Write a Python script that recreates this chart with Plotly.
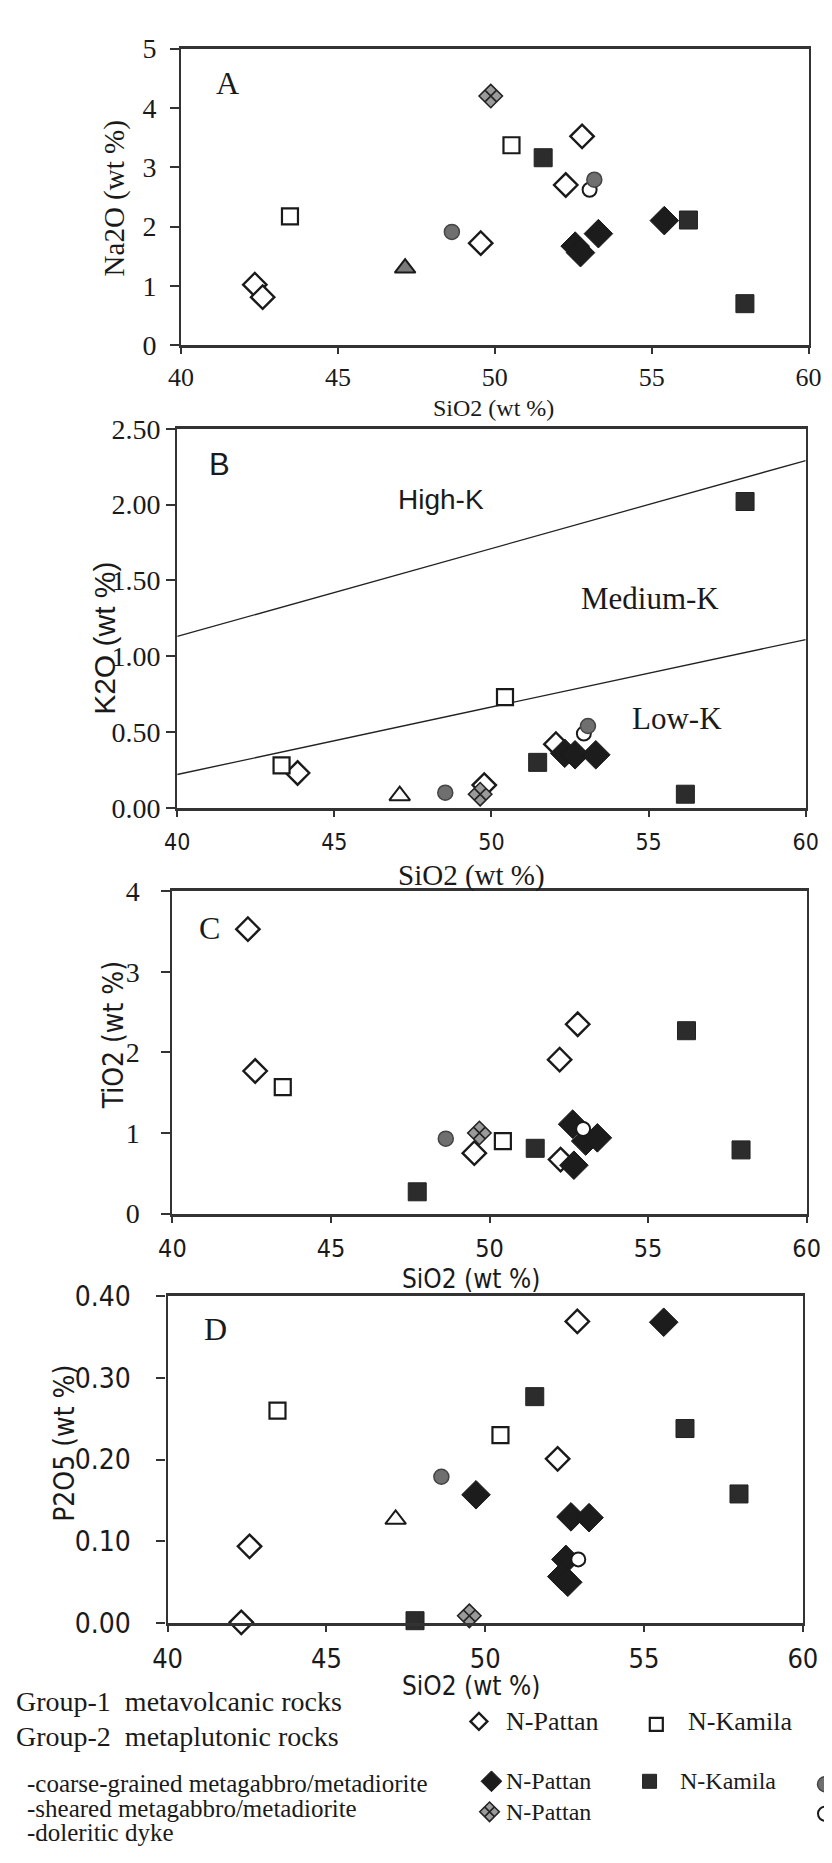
import plotly.graph_objects as go

W, H = 832, 1863

# ---------------- data ----------------
# series codes: g1p = Group-1 N-Pattan, g1k = Group-1 N-Kamila,
# g2p = coarse N-Pattan, g2k = coarse N-Kamila, g2c = coarse (third locality),
# shp = sheared N-Pattan, shc = sheared (third locality), dyk = doleritic dyke

# Panel A: Na2O vs SiO2
A_x_g1p = [42.35, 42.6, 49.55, 52.26, 52.78]
A_y_g1p = [1.02, 0.81, 1.72, 2.70, 3.52]
A_x_g1k = [43.47, 50.53]
A_y_g1k = [2.17, 3.37]
A_x_g2p = [55.4, 53.3, 52.56, 52.73]
A_y_g2p = [2.10, 1.88, 1.67, 1.56]
A_x_g2k = [51.54, 56.17, 57.97]
A_y_g2k = [3.16, 2.11, 0.70]
A_x_g2c = [48.63, 53.17]
A_y_g2c = [1.91, 2.79]
A_x_shp = [49.87]
A_y_shp = [4.20]
A_x_shc = [53.02]
A_y_shc = [2.62]
A_x_dyk = [47.14]
A_y_dyk = [1.30]

# Panel B: K2O vs SiO2
B_x_g1p = [43.83, 49.77, 52.05]
B_y_g1p = [0.23, 0.15, 0.42]
B_x_g1k = [43.32, 50.43]
B_y_g1k = [0.28, 0.73]
B_x_g2p = [52.33, 52.66, 53.32]
B_y_g2p = [0.36, 0.35, 0.35]
B_x_g2k = [58.07, 51.47, 56.17]
B_y_g2k = [2.02, 0.30, 0.09]
B_x_g2c = [48.53, 53.07]
B_y_g2c = [0.10, 0.54]
B_x_shp = [49.64]
B_y_shp = [0.09]
B_x_shc = [52.94]
B_y_shc = [0.49]
B_x_dyk = [47.08]
B_y_dyk = [0.08]
# K-series boundary lines
B_line_x = [40, 60]
B_high_y = [1.13, 2.29]
B_low_y = [0.22, 1.11]
B_field_names = ["High-K", "Medium-K", "Low-K"]
B_field_x = [48.4, 55.05, 55.9]
B_field_y = [2.03, 1.38, 0.59]

# Panel C: TiO2 vs SiO2
C_x_g1p = [42.38, 42.61, 52.78, 52.21, 49.52, 52.24]
C_y_g1p = [3.53, 1.77, 2.35, 1.91, 0.75, 0.67]
C_x_g1k = [43.48, 50.42]
C_y_g1k = [1.57, 0.90]
C_x_g2p = [52.62, 53.03, 53.4, 52.66]
C_y_g2p = [1.11, 0.90, 0.94, 0.60]
C_x_g2k = [56.21, 51.44, 57.93, 47.72]
C_y_g2k = [2.27, 0.81, 0.79, 0.27]
C_x_g2c = [48.62]
C_y_g2c = [0.93]
C_x_shp = [49.68]
C_y_shp = [1.00]
C_x_shc = [52.95]
C_y_shc = [1.05]
C_x_dyk = []
C_y_dyk = []

# Panel D: P2O5 vs SiO2
D_x_g1p = [52.9, 52.28, 42.58, 42.32]
D_y_g1p = [0.369, 0.201, 0.094, 0.001]
D_x_g1k = [43.46, 50.48]
D_y_g1k = [0.26, 0.23]
D_x_g2p = [55.62, 49.71, 52.7, 53.27, 52.54, 52.41, 52.6]
D_y_g2p = [0.368, 0.157, 0.130, 0.129, 0.078, 0.057, 0.050]
D_x_g2k = [51.56, 56.29, 57.99, 47.79]
D_y_g2k = [0.277, 0.238, 0.158, 0.003]
D_x_g2c = [48.62]
D_y_g2c = [0.179]
D_x_shp = [49.5]
D_y_shp = [0.009]
D_x_shc = [52.93]
D_y_shc = [0.078]
D_x_dyk = [47.18]
D_y_dyk = [0.127]

x_ticks = [40, 45, 50, 55, 60]
A_y_ticks = [0, 1, 2, 3, 4, 5]
B_y_ticks = [0, 0.5, 1.0, 1.5, 2.0, 2.5]
C_y_ticks = [0, 1, 2, 3, 4]
D_y_ticks = [0, 0.1, 0.2, 0.3, 0.4]

panel_letters = ["A", "B", "C", "D"]
y_titles = ["Na2O (wt %)", "K2O (wt %)", "TiO2 (wt %)", "P2O5 (wt %)"]
x_title = "SiO2 (wt %)"

legend_heads = ["Group-1  metavolcanic rocks", "Group-2  metaplutonic rocks"]
legend_subs = ["-coarse-grained metagabbro/metadiorite",
               "-sheared metagabbro/metadiorite", "-doleritic dyke"]
legend_names = ["N-Pattan", "N-Kamila", "N-Pattan", "N-Kamila", "N-Pattan"]

# ---------------- styles ----------------
SERIF = "Liberation Serif, Times New Roman, serif"
SANS = "Liberation Sans, Arial, sans-serif"
TAHO = "DejaVu Sans Condensed, DejaVu Sans, Verdana, sans-serif"
INK = "#1a1a1a"

STYLE = {
    "g1p": dict(symbol="diamond", color="white", size=18, line=dict(color=INK, width=2.4)),
    "g1k": dict(symbol="square", color="white", size=16, line=dict(color=INK, width=2.2)),
    "g2p": dict(symbol="diamond", color="#1c1c1c", size=22, line=dict(color=INK, width=1)),
    "g2k": dict(symbol="square", color="#2c2c2c", size=18, line=dict(color="#222", width=1)),
    "g2c": dict(symbol="circle", color="#6f6f6f", size=15, line=dict(color="#444", width=1.5)),
    "shp": dict(symbol="diamond-x", color="#9a9a9a", size=18, line=dict(color="#222", width=1.6)),
    "shc": dict(symbol="circle", color="white", size=14, line=dict(color=INK, width=2)),
    "dyk": dict(symbol="triangle-up", color="white", size=18, line=dict(color=INK, width=2)),
}
ORDER = ["g1p", "g1k", "g2p", "g2k", "shp", "shc", "g2c", "dyk"]

DATA = {
    "A": {k: (globals()["A_x_" + k], globals()["A_y_" + k]) for k in ORDER},
    "B": {k: (globals()["B_x_" + k], globals()["B_y_" + k]) for k in ORDER},
    "C": {k: (globals()["C_x_" + k], globals()["C_y_" + k]) for k in ORDER},
    "D": {k: (globals()["D_x_" + k], globals()["D_y_" + k]) for k in ORDER},
}

# panel layout in pixels: (x left, x right, y top, y bottom)
PANELS = [
    dict(box=(164, 815, 25, 327), yr=[0, 5], yt=A_y_ticks, fmt="d",
         yfont=(SERIF, 28), xfont=(SERIF, 26), ysoff=8, xsoff=1,
         letter=(212, 60, SERIF, 32),
         ytitle=(95, 178, SERIF, 29), xtitle=(488, 391, SERIF, 24)),
    dict(box=(160, 812, 412, 798), yr=[0, 2.5], yt=B_y_ticks, fmt=".2f",
         yfont=(SERIF, 28), xfont=(TAHO, 23), ysoff=0, xsoff=6,
         letter=(204, 448, SANS, 31),
         ytitle=(85, 625, SANS, 30), xtitle=(465, 867, SERIF, 29)),
    dict(box=(155, 813, 883, 1211), yr=[0, 4], yt=C_y_ticks, fmt="d",
         yfont=(SERIF, 28), xfont=(TAHO, 25), ysoff=16, xsoff=4,
         letter=(193, 920, SERIF, 32),
         ytitle=(94, 1030, TAHO, 28), xtitle=(465, 1278, TAHO, 26)),
    dict(box=(150, 809, 1295, 1628), yr=[0, 0.4], yt=D_y_ticks, fmt=".2f",
         yfont=(TAHO, 28), xfont=(TAHO, 27), ysoff=20, xsoff=3,
         letter=(200, 1329, SERIF, 32),
         ytitle=(43, 1445, TAHO, 28), xtitle=(465, 1692, TAHO, 26)),
]

fig = go.Figure()
layout = dict(width=W, height=H, margin=dict(l=0, r=0, t=0, b=0),
              paper_bgcolor="white", plot_bgcolor="rgba(0,0,0,0)", showlegend=False)
annotations = []

for i, (key, p) in enumerate(zip(panel_letters, PANELS), start=1):
    xl, xr, yt_, yb = p["box"]
    xa = "xaxis" if i == 1 else f"xaxis{i}"
    ya = "yaxis" if i == 1 else f"yaxis{i}"
    xref = "x" if i == 1 else f"x{i}"
    yref = "y" if i == 1 else f"y{i}"
    layout[xa] = dict(domain=[xl / W, xr / W], range=[40, 60], anchor=yref,
                      tickvals=x_ticks, ticks="outside", ticklen=6, tickwidth=1.5,
                      tickcolor="#333", showline=True, mirror=True, linewidth=3,
                      linecolor="#333", showgrid=False, zeroline=False,
                      tickfont=dict(family=p["xfont"][0], size=p["xfont"][1], color=INK),
                      ticklabelstandoff=p["xsoff"])
    layout[ya] = dict(domain=[1 - yb / H, 1 - yt_ / H], range=p["yr"], anchor=xref,
                      tickvals=p["yt"], tickformat=p["fmt"], ticks="outside", ticklen=9,
                      tickwidth=1.5, tickcolor="#333", showline=True, mirror=True,
                      linewidth=2.2, linecolor="#333", showgrid=False, zeroline=False,
                      tickfont=dict(family=p["yfont"][0], size=p["yfont"][1], color=INK),
                      ticklabelstandoff=p["ysoff"])
    if key == "B":
        for yy in (B_high_y, B_low_y):
            fig.add_trace(go.Scatter(x=B_line_x, y=yy, mode="lines", xaxis=xref, yaxis=yref,
                                     line=dict(color="#222", width=1.3), hoverinfo="skip"))
        for name, fx, fy in zip(B_field_names, B_field_x, B_field_y):
            annotations.append(dict(x=fx, y=fy, xref=xref, yref=yref, text=name,
                                    showarrow=False,
                                    font=dict(family=SANS if name == "High-K" else SERIF,
                                              size=28 if name == "High-K" else 31, color=INK)))
    for k in ORDER:
        xs, ys = DATA[key][k]
        if not xs:
            continue
        st = dict(STYLE[k])
        if key == "A" and k == "dyk":
            st["color"] = "#7a7a7a"
        fig.add_trace(go.Scatter(x=xs, y=ys, mode="markers", xaxis=xref, yaxis=yref,
                                 marker=st, cliponaxis=False, name=k))
    # pixel-positioned texts
    lx, ly, lf, ls = p["letter"]
    annotations.append(dict(x=lx, y=ly, xref="x5", yref="y5", text=key, showarrow=False,
                            font=dict(family=lf, size=ls, color=INK)))
    tx, ty, tf, ts = p["ytitle"]
    annotations.append(dict(x=tx, y=ty, xref="x5", yref="y5", text=y_titles[i - 1],
                            textangle=-90, showarrow=False,
                            font=dict(family=tf, size=ts, color=INK)))
    sx, sy, sf, ss = p["xtitle"]
    annotations.append(dict(x=sx, y=sy, xref="x5", yref="y5", text=x_title,
                            showarrow=False, font=dict(family=sf, size=ss, color=INK)))

# overlay pixel axis for the legend area
layout["xaxis5"] = dict(domain=[0, 1], range=[0, W], visible=False, anchor="y5",
                        fixedrange=True)
layout["yaxis5"] = dict(domain=[0, 1], range=[H, 0], visible=False, anchor="x5",
                        fixedrange=True)

# legend texts
head_y = [1726, 1761]
for txt, yy in zip(legend_heads, head_y):
    annotations.append(dict(x=-9 / W, y=1 - yy / H, xref="paper", yref="paper", text=txt,
                            xanchor="left", showarrow=False,
                            font=dict(family=SERIF, size=28, color=INK)))
sub_y = [1791, 1817, 1841]
for txt, yy in zip(legend_subs, sub_y):
    annotations.append(dict(x=2, y=yy, xref="x5", yref="y5", text=txt, xanchor="left",
                            showarrow=False, font=dict(family=SERIF, size=25, color=INK)))
name_x = [499, 688, 499, 679, 499]
name_y = [1728, 1728, 1789, 1789, 1820]
name_size = [26, 26, 24, 24, 24]
for txt, xx, yy, fs in zip(legend_names, name_x, name_y, name_size):
    annotations.append(dict(x=xx, y=yy, xref="x5", yref="y5", text=txt, xanchor="left",
                            showarrow=False, font=dict(family=SERIF, size=fs, color=INK)))

# legend symbols
sym_keys = ["g1p", "g1k", "g2p", "g2k", "g2c", "shp", "shc", "dyk"]
sym_x = [473, 657, 486, 650, 832, 484, 832, 834]
sym_y = [1728, 1731, 1789, 1789, 1792, 1820, 1822, 1849]
sym_size = [13, 13, 16, 14, 15, 15, 14, 18]
for k, xx, yy, sz in zip(sym_keys, sym_x, sym_y, sym_size):
    st = dict(STYLE[k])
    st["size"] = sz
    fig.add_trace(go.Scatter(x=[xx], y=[yy], mode="markers", xaxis="x5", yaxis="y5",
                             marker=st, cliponaxis=False, hoverinfo="skip"))

layout["annotations"] = annotations
fig.update_layout(**layout)
fig.write_html("out.html")
